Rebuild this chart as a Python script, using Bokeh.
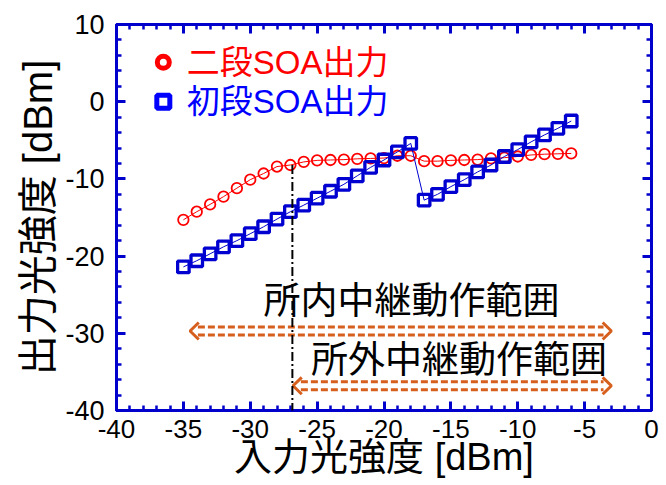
from bokeh.plotting import figure
from bokeh.models import LinearAxis, FixedTicker, Range1d, ColumnDataSource, Arrow
from bokeh.core.properties import value
from bokeh.embed import file_html
from bokeh.resources import INLINE

# ---------------- data ----------------
input_dbm = [-35, -34, -33, -32, -31, -30, -29, -28, -27, -26,
             -25, -24, -23, -22, -21, -20, -19, -18, -17, -16,
             -15, -14, -13, -12, -11, -10, -9, -8, -7, -6]
second_soa_out = [-15.3, -14.25, -13.3, -12.3, -11.2, -10.1, -9.3, -8.4, -8.2, -7.8,
                  -7.6, -7.55, -7.5, -7.4, -7.35, -7.3, -7.0, -7.0, -7.7, -7.7,
                  -7.6, -7.55, -7.5, -7.35, -7.25, -7.1, -6.9, -6.8, -6.75, -6.7]
first_soa_out = [-21.4, -20.6, -19.7, -18.8, -18.0, -17.1, -16.2, -15.2, -14.25, -13.4,
                 -12.5, -11.6, -10.7, -9.6, -8.5, -7.55, -6.5, -5.4, -12.75, -12.0,
                 -11.0, -10.1, -9.1, -8.2, -7.1, -6.2, -5.2, -4.3, -3.45, -2.5]

x_ticks = [-40, -35, -30, -25, -20, -15, -10, -5, 0]
x_tick_labels = ["-40", "-35", "-30", "-25", "-20", "-15", "-10", "-5", "0"]
x_minor_ticks = [-40, -39, -38, -37, -36, -35, -34, -33, -32, -31, -30, -29, -28, -27,
                 -26, -25, -24, -23, -22, -21, -20, -19, -18, -17, -16, -15, -14, -13,
                 -12, -11, -10, -9, -8, -7, -6, -5, -4, -3, -2, -1, 0]
y_ticks = [-40, -30, -20, -10, 0, 10]
y_tick_labels = ["-40", "-30", "-20", "-10", "0", "10"]
y_minor_ticks = [-40, -38, -36, -34, -32, -30, -28, -26, -24, -22, -20, -18, -16, -14,
                 -12, -10, -8, -6, -4, -2, 0, 2, 4, 6, 8, 10]

x_title = "入力光強度 [dBm]"
y_title = "出力光強度 [dBm]"

legend_labels = ["二段SOA出力", "初段SOA出力"]
legend_marker_x = [-36.5, -36.5]
legend_text_x = [-34.75, -34.75]
legend_y = [5.1, 0.0]

range_labels = ["所内中継動作範囲", "所外中継動作範囲"]
range_start = [-34.5, -26.8]
range_end = [-3.0, -3.0]
range_y = [-29.7, -36.8]
range_label_x = [-17.95, -14.4]
range_label_y = [-25.4, -33.1]

threshold_x = -26.85
threshold_top = -8.2
threshold_bottom = -42.3

# ---------------- style ----------------
FRAME_BLUE = "#0000cc"
MARK_BLUE = "#0000d0"
TEXT_BLUE = "#0000ff"
RED = "#ff0000"
ORANGE = "#d65f1e"
MIXED_FONT = "Liberation Sans, Noto Sans CJK JP"

p = figure(width=660, height=485, x_range=Range1d(-40, 0), y_range=Range1d(-40, 10),
           output_backend="svg", toolbar_location=None,
           min_border_left=116, min_border_right=9, min_border_top=24, min_border_bottom=75)
p.xgrid.visible = False
p.ygrid.visible = False
p.outline_line_color = FRAME_BLUE
p.outline_line_width = 3
p.background_fill_color = "white"
p.border_fill_color = "white"


def style_axis(ax, ticks, minor, labels, show, size="27px"):
    ax.ticker = FixedTicker(ticks=ticks, minor_ticks=minor)
    ax.axis_line_color = FRAME_BLUE
    ax.axis_line_width = 3
    ax.major_tick_line_color = FRAME_BLUE
    ax.major_tick_line_width = 3
    ax.major_tick_in = 9
    ax.major_tick_out = 0
    ax.minor_tick_line_color = FRAME_BLUE
    ax.minor_tick_line_width = 2.5
    ax.minor_tick_in = 5
    ax.minor_tick_out = 0
    if show:
        ax.major_label_overrides = {t: l for t, l in zip(ticks, labels)}
        ax.major_label_text_font = "Liberation Sans"
        ax.major_label_text_font_size = size
        ax.major_label_text_color = "black"
    else:
        ax.major_label_overrides = {t: "" for t in ticks}
        ax.major_label_standoff = 0


xb = p.xaxis[0]
style_axis(xb, x_ticks, x_minor_ticks, x_tick_labels, True, "26px")
xb.major_label_standoff = 9
xb.axis_label = x_title
xb.axis_label_text_font = MIXED_FONT
xb.axis_label_text_font_size = "38px"
xb.axis_label_text_font_style = "normal"
xb.axis_label_text_color = "black"
xb.axis_label_standoff = -5

yl = p.yaxis[0]
style_axis(yl, y_ticks, y_minor_ticks, y_tick_labels, True, "27px")
yl.major_label_standoff = 12
yl.axis_label = y_title
yl.axis_label_text_font = MIXED_FONT
yl.axis_label_text_font_size = "40px"
yl.axis_label_text_font_style = "normal"
yl.axis_label_text_color = "black"
yl.axis_label_standoff = 2

xt = LinearAxis()
style_axis(xt, x_ticks, x_minor_ticks, x_tick_labels, False)
p.add_layout(xt, "above")
yr = LinearAxis()
style_axis(yr, y_ticks, y_minor_ticks, y_tick_labels, False)
p.add_layout(yr, "right")

# ---------------- series ----------------
src = ColumnDataSource(dict(x=input_dbm, red=second_soa_out, blue=first_soa_out))
p.line("x", "red", source=src, line_color=RED, line_width=1)
p.scatter("x", "red", source=src, marker="circle", size=10.5, line_width=1.8,
          line_color=RED, fill_color="white", fill_alpha=0)
p.line("x", "blue", source=src, line_color=MARK_BLUE, line_width=1)
p.scatter("x", "blue", source=src, marker="square", size=11.5, line_width=3.3,
          line_color=MARK_BLUE, fill_color="white", fill_alpha=0)

# ---------------- legend ----------------
p.scatter(x=[legend_marker_x[0]], y=[legend_y[0]], marker="circle", size=12, line_width=5,
          line_color=RED, fill_color="white")
p.scatter(x=[legend_marker_x[1]], y=[legend_y[1]], marker="square", size=13, line_width=5,
          line_color=TEXT_BLUE, fill_color="white")
p.text(x=[legend_text_x[0]], y=[legend_y[0]], text=[legend_labels[0]], text_color=RED,
       text_font=value(MIXED_FONT), text_font_size="33px", text_baseline="middle",
       text_align="left")
p.text(x=[legend_text_x[1]], y=[legend_y[1]], text=[legend_labels[1]], text_color=TEXT_BLUE,
       text_font=value(MIXED_FONT), text_font_size="33px", text_baseline="middle",
       text_align="left")

# ---------------- threshold line ----------------
p.add_layout(Arrow(end=None, x_start=threshold_x, y_start=threshold_top,
                   x_end=threshold_x, y_end=threshold_bottom,
                   line_color="black", line_width=2, line_dash="9 3 2 3"))

# ---------------- operating ranges ----------------
head_len = 0.65
head_half = 1.1
shaft_half = 0.52
for xs, xe, yc in zip(range_start, range_end, range_y):
    for off in (shaft_half, -shaft_half):
        p.line(x=[xs + head_len * 0.9, xe - head_len * 0.9], y=[yc + off, yc + off],
               line_color=ORANGE, line_width=3, line_dash="7 3")
    p.line(x=[xs + head_len, xs, xs + head_len], y=[yc + head_half, yc, yc - head_half],
           line_color=ORANGE, line_width=3)
    p.line(x=[xe - head_len, xe, xe - head_len], y=[yc + head_half, yc, yc - head_half],
           line_color=ORANGE, line_width=3)

p.text(x=range_label_x, y=range_label_y, text=range_labels, text_color="black",
       text_font=value("Noto Sans CJK JP"), text_font_size="37px",
       text_baseline="middle", text_align="center")

open("out.html", "w").write(file_html(p, INLINE))
